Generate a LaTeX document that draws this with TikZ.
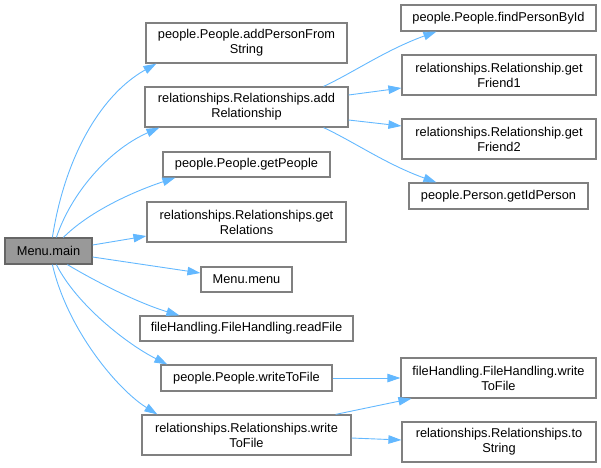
\documentclass[tikz,border=0pt]{standalone}
\usepackage{fontspec}
\setmainfont{Liberation Sans}
\usetikzlibrary{arrows.meta}
\definecolor{edgeblue}{HTML}{63B8FF}
\definecolor{boxborder}{HTML}{808080}
\definecolor{mainfill}{HTML}{999999}
\definecolor{mainborder}{HTML}{666666}
\tikzset{
  fnbox/.style={draw=boxborder, line width=1.2pt, fill=white, rectangle, inner sep=0pt,
    align=center, font=\fontsize{12.8pt}{15pt}\selectfont},
  mainbox/.style={fnbox, fill=mainfill, draw=mainborder},
  callarrow/.style={draw=edgeblue, line width=0.9pt, -{Triangle[length=13pt,width=8.5pt]}}
}
\newcommand{\fnnode}[6]{\node[#1, minimum width=#4pt, minimum height=#5pt] (#2) at (#3) {#6};}
\begin{document}
\begin{tikzpicture}[x=1pt,y=-1pt]
\useasboundingbox (0,0) rectangle (601,467);
% nodes
\fnnode{mainbox}{main}{48.5,251}{87}{26}{Menu.main}
\fnnode{fnbox}{addpfs}{246.5,43}{201}{40}{people.People.addPersonFrom\\String}
\fnnode{fnbox}{addrel}{246.5,107}{203}{40}{relationships.Relationships.add\\Relationship}
\fnnode{fnbox}{getpeople}{246.5,164.5}{167}{25}{people.People.getPeople}
\fnnode{fnbox}{getrels}{246.5,222}{199}{40}{relationships.Relationships.get\\Relations}
\fnnode{fnbox}{menu}{246.5,279.5}{91}{25}{Menu.menu}
\fnnode{fnbox}{readfile}{246.5,328.5}{213}{25}{fileHandling.FileHandling.readFile}
\fnnode{fnbox}{pwtf}{246.5,378}{171}{26}{people.People.writeToFile}
\fnnode{fnbox}{rwtf}{246.5,435}{209}{40}{relationships.Relationships.write\\ToFile}
\fnnode{fnbox}{findp}{498.5,18}{195}{26}{people.People.findPersonById}
\fnnode{fnbox}{gf1}{499,75}{194}{40}{relationships.Relationship.get\\Friend1}
\fnnode{fnbox}{gf2}{499,139}{194}{40}{relationships.Relationship.get\\Friend2}
\fnnode{fnbox}{getid}{498.5,196}{179}{26}{people.Person.getIdPerson}
\fnnode{fnbox}{fhwtf}{498.5,378}{195}{40}{fileHandling.FileHandling.write\\ToFile}
\fnnode{fnbox}{tostr}{499,442}{194}{40}{relationships.Relationships.to\\String}
% edges from main
\draw[callarrow] ([xshift=48pt]main.north west) .. controls +(12,-78) and +(-57,32) .. ([xshift=11pt]addpfs.south west);
\draw[callarrow] ([xshift=52pt]main.north west) .. controls +(15,-45) and +(-50,22) .. ([xshift=15pt]addrel.south west);
\draw[callarrow] ([xshift=59pt]main.north west) .. controls +(25,-25) and +(-45,15) .. ([xshift=13pt]getpeople.south west);
\draw[callarrow] ([yshift=6pt]main.east) -- ([yshift=-14pt]getrels.west);
\draw[callarrow] ([yshift=-6pt]main.east) -- ([yshift=6.5pt]menu.west);
\draw[callarrow] ([xshift=63pt]main.south west) .. controls +(30,18) and +(-40,-12) .. ([xshift=40pt]readfile.north west);
\draw[callarrow] ([xshift=52pt]main.south west) .. controls +(20,40) and +(-40,-20) .. ([xshift=7pt]pwtf.north west);
\draw[callarrow] ([xshift=48pt]main.south west) .. controls +(15,65) and +(-40,-25) .. ([xshift=16pt]rwtf.north west);
% edges from addRelationship
\draw[callarrow] ([xshift=-25pt]addrel.north east) .. controls +(30,-14) and +(-50,18) .. ([xshift=36pt]findp.south west);
\draw[callarrow] ([yshift=12pt]addrel.east) -- ([yshift=-13pt]gf1.west);
\draw[callarrow] ([yshift=-13pt]addrel.east) -- ([yshift=13pt]gf2.west);
\draw[callarrow] ([xshift=-25pt]addrel.south east) .. controls +(30,14) and +(-50,-18) .. ([xshift=28pt]getid.north west);
% edges to file writing
\draw[callarrow] (pwtf.east) -- (fhwtf.west);
\draw[callarrow] ([xshift=-16pt]rwtf.north east) -- ([xshift=11pt]fhwtf.south west);
\draw[callarrow] ([yshift=-3pt]rwtf.east) -- ([yshift=2pt]tostr.west);
\end{tikzpicture}
\end{document}
